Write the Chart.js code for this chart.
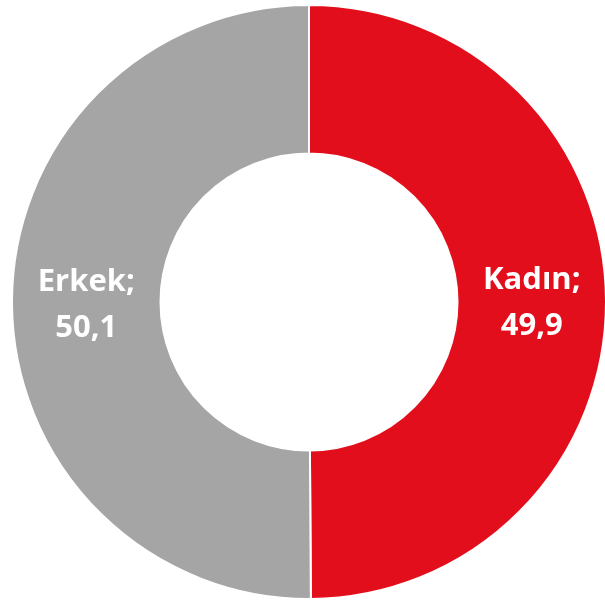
<!DOCTYPE html>
<html>
<head>
<meta charset="utf-8">
<script src="https://cdn.jsdelivr.net/npm/chart.js@4/dist/chart.umd.min.js"></script>
<style>
  html, body { margin: 0; padding: 0; background: #fff; overflow: hidden; }
  #wrap { position: absolute; left: 11px; top: 4px; width: 596px; height: 596px; }
</style>
</head>
<body>
<div id="wrap"><canvas id="donut"></canvas></div>
<script>
const labels = ['Kadın', 'Erkek'];
const values = [49.9, 50.1];
const colors = ['#E30E1C', '#A5A5A5'];

// etiketleri dilimlerin ortasina yaz
const sliceLabels = {
  id: 'sliceLabels',
  afterDatasetsDraw(chart) {
    const ctx = chart.ctx;
    const meta = chart.getDatasetMeta(0);
    ctx.save();
    ctx.fillStyle = '#ffffff';
    ctx.font = 'bold 31px "Open Sans", sans-serif';
    ctx.textAlign = 'center';
    ctx.textBaseline = 'middle';
    meta.data.forEach((arc, i) => {
      const p = arc.tooltipPosition();
      ctx.fillText(labels[i] + ';', p.x, p.y - 21);
      ctx.fillText(String(values[i]).replace('.', ','), p.x, p.y + 25);
    });
    ctx.restore();
  }
};

new Chart(document.getElementById('donut'), {
  type: 'doughnut',
  data: {
    labels: labels,
    datasets: [{
      data: values,
      backgroundColor: colors,
      borderColor: '#ffffff',
      borderWidth: 2
    }]
  },
  options: {
    responsive: true,
    maintainAspectRatio: false,
    animation: false,
    cutout: '50%',
    layout: { padding: 0 },
    plugins: {
      legend: { display: false },
      tooltip: { enabled: false }
    }
  },
  plugins: [sliceLabels]
});
</script>
</body>
</html>
